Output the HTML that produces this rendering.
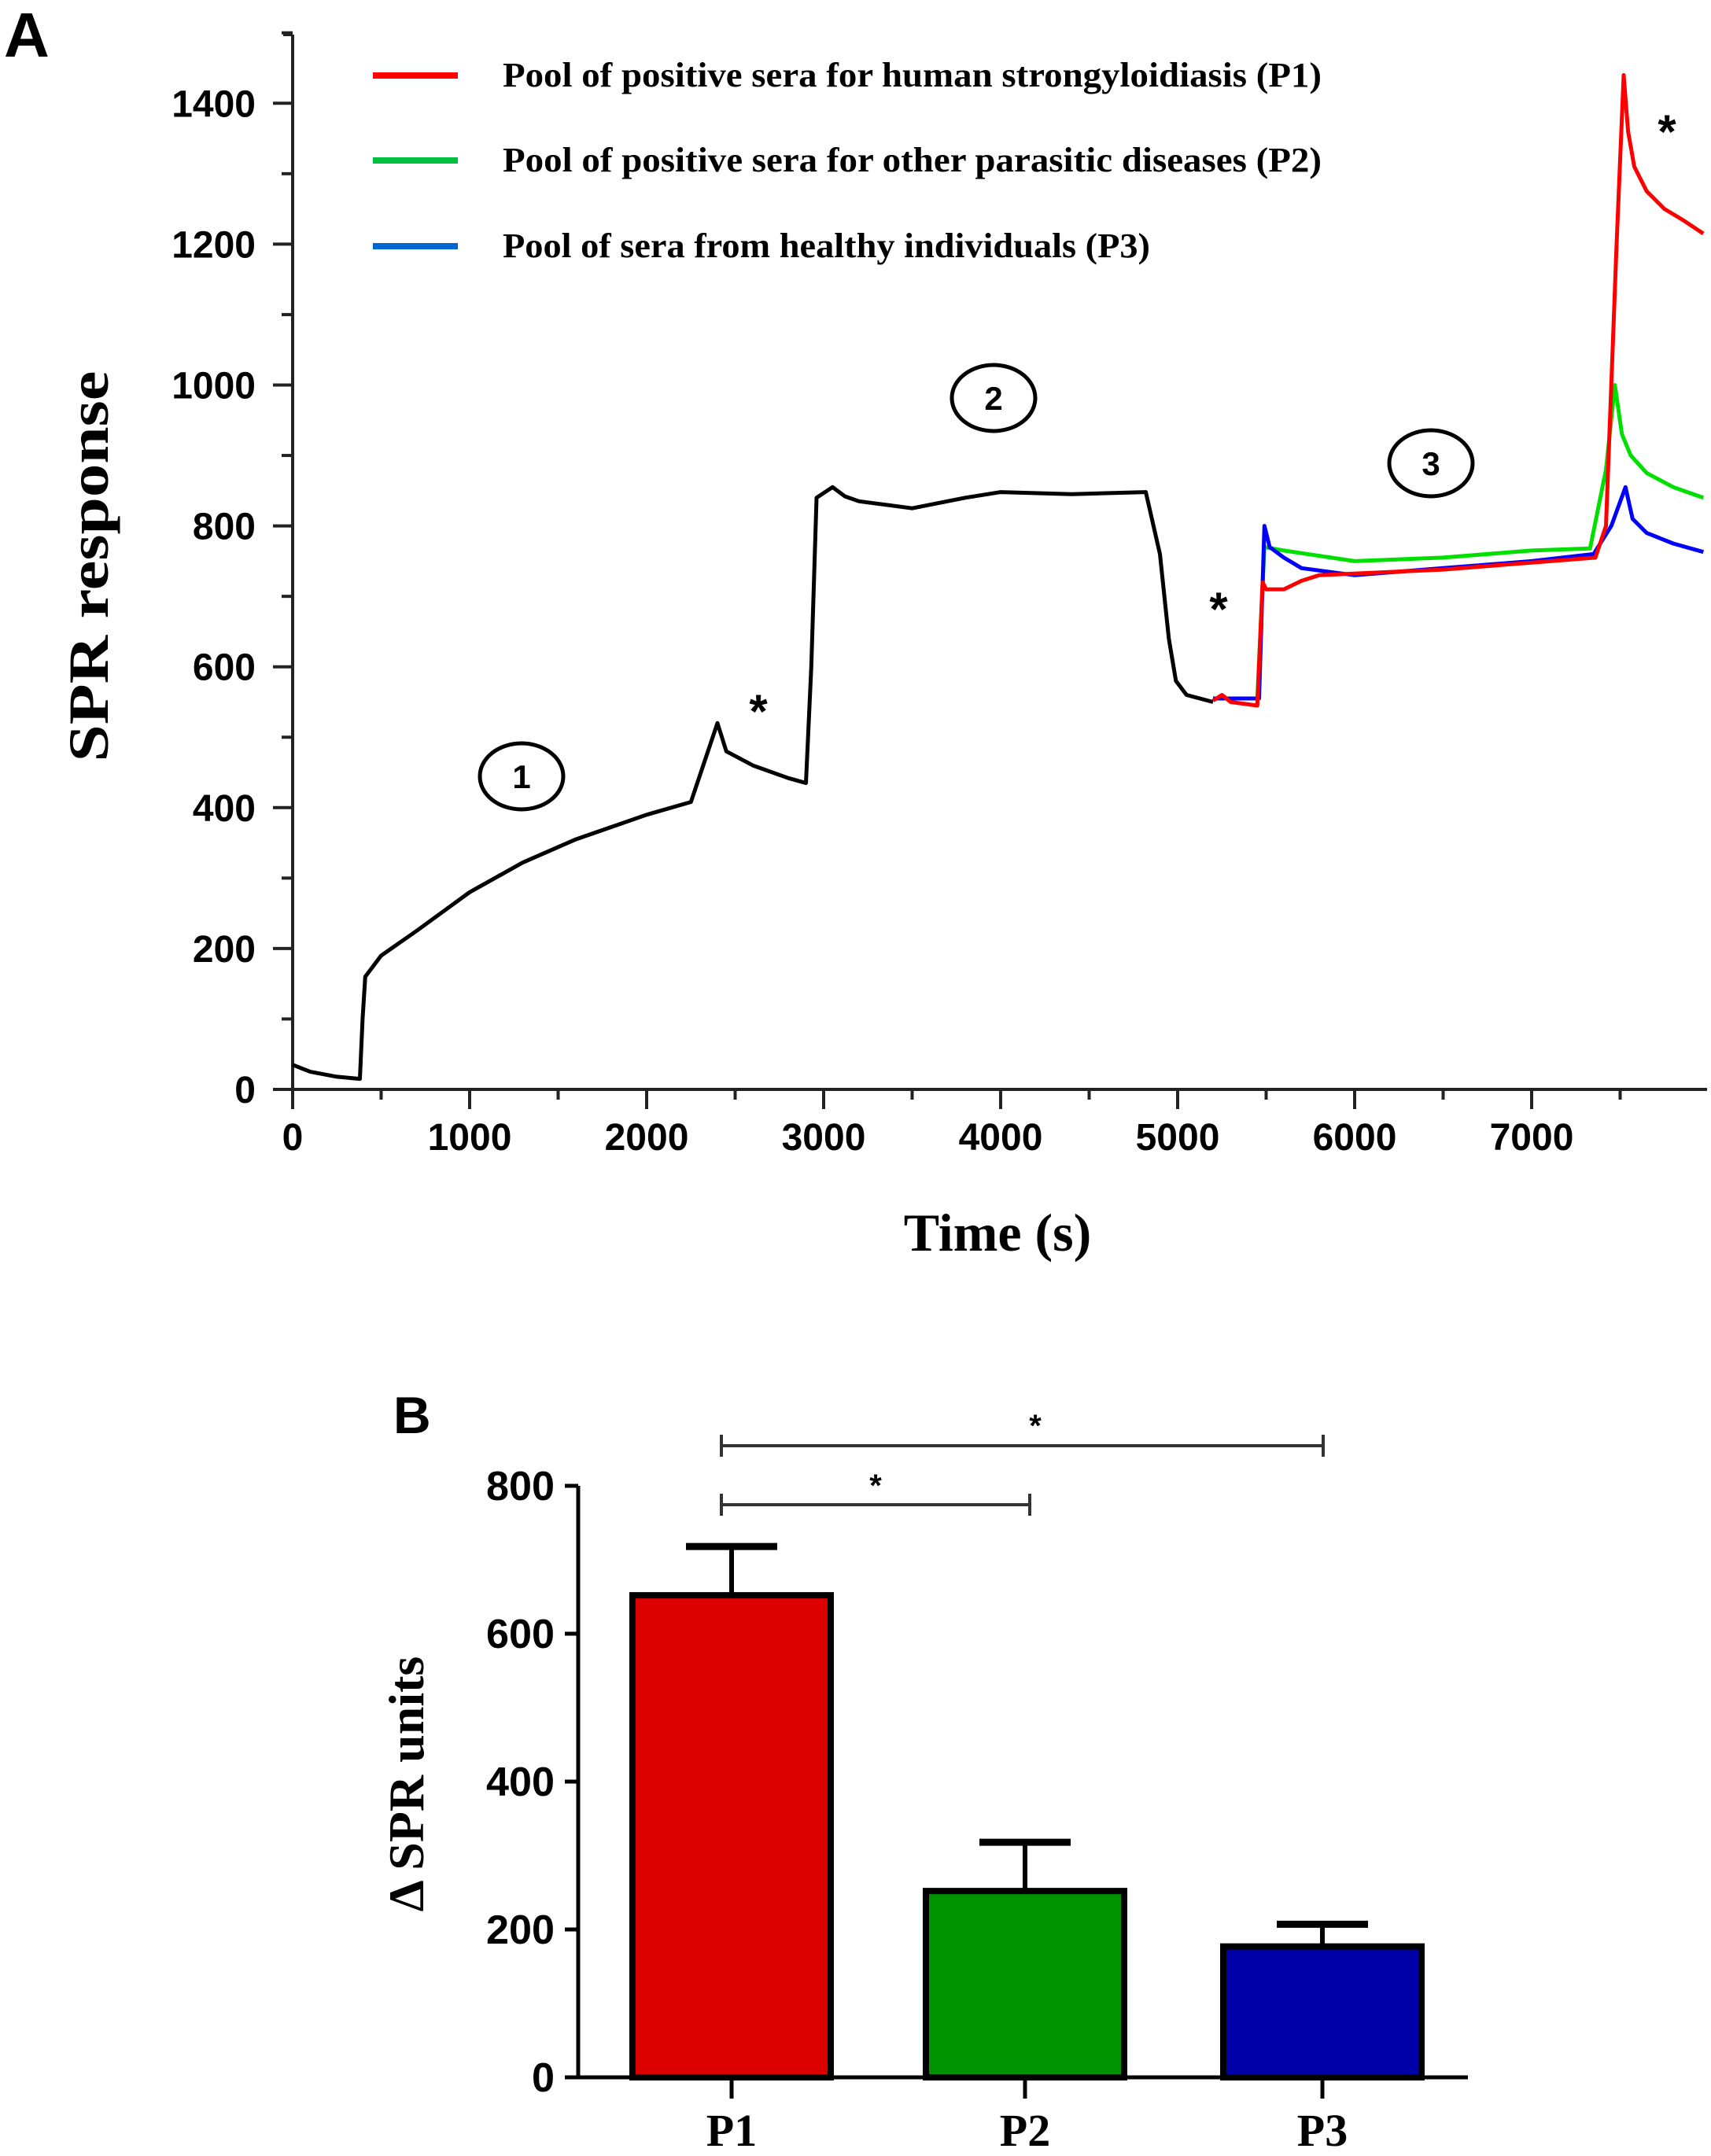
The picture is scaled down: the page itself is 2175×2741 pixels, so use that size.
<!DOCTYPE html>
<html><head><meta charset="utf-8"><style>
html,body{margin:0;padding:0;background:#fff}
svg{display:block}
.tk{font-family:"Liberation Sans",sans-serif;font-weight:bold;fill:#000}
.sf{font-family:"Liberation Serif",serif;font-weight:bold;fill:#000}
</style></head><body>
<svg id="fig" width="2175" height="2741" viewBox="0 0 2175 2741" xmlns="http://www.w3.org/2000/svg">
<text x="5" y="72" class="tk" font-size="80">A</text>
<text x="500" y="1822" class="tk" font-size="66">B</text>
<g id="gA"></g>
<g id="gB"></g>
</svg>
<script>
// ---- Panel A data ----
const blackT=[0,100,250,380,395,410,500,700,1000,1300,1600,2000,2250,2400,2450,2600,2800,2900,2930,2960,3050,3120,3200,3500,3800,4000,4400,4820,4900,4950,4990,5050,5200];
const blackV=[35,25,18,15,100,160,190,225,280,322,355,390,408,520,480,460,442,435,600,840,855,842,835,825,840,848,845,848,760,640,580,560,550];
const p1T=[5200,5250,5300,5450,5480,5500,5600,5700,5800,6500,7000,7360,7420,7480,7520,7545,7580,7650,7750,7850,7970];
const p1V=[552,560,550,545,720,710,710,722,730,738,748,755,800,1200,1440,1360,1310,1275,1250,1235,1215];
const p2T=[5200,5450,5490,5600,6000,6500,7000,7330,7420,7470,7510,7560,7650,7800,7970];
const p2V=[555,555,770,765,750,755,765,768,880,1000,930,900,875,855,840];
const p3T=[5200,5460,5490,5520,5600,5700,6000,6500,7000,7350,7450,7530,7570,7650,7800,7970];
const p3V=[555,555,800,770,755,740,730,740,750,760,800,855,810,790,775,763];
const aYTicks=[0,200,400,600,800,1000,1200,1400];
const aXTicks=[0,1000,2000,3000,4000,5000,6000,7000];
const legendLabels=["Pool of positive sera for human strongyloidiasis (P1)","Pool of positive sera for other parasitic diseases (P2)","Pool of sera from healthy individuals (P3)"];
// ---- Panel B data ----
const bCats=["P1","P2","P3"];
const bVals=[652,252,177];
const bErr=[66,66,30];
const bYTicks=[0,200,400,600,800];

const NS="http://www.w3.org/2000/svg";
function mk(p,tag,at){const e=document.createElementNS(NS,tag);for(const k in at)e.setAttribute(k,at[k]);p.appendChild(e);return e;}
const xA=t=>372+t*0.225, yA=v=>1385-v*0.8955;
const gA=document.getElementById('gA');
let e=mk(gA,'line',{x1:372,y1:44,x2:372,y2:1385,stroke:'#222','stroke-width':4});


e=mk(gA,'line',{x1:360,y1:44,x2:372,y2:44,stroke:'#222','stroke-width':4});
e=mk(gA,'line',{x1:350,y1:1385,x2:2170,y2:1385,stroke:'#222','stroke-width':4});


for(let v=0;v<=1500;v+=100){const major=v%200===0;mk(gA,'line',{x1:major?347:358,y1:yA(v),x2:372,y2:yA(v),stroke:'#222','stroke-width':4});}
aYTicks.forEach(v=>{const t=mk(gA,'text',{x:325,y:yA(v)+17,'text-anchor':'end',class:'tk','font-size':48});t.textContent=v;

});
for(let v=0;v<=7900;v+=500){const major=v%1000===0;mk(gA,'line',{x1:xA(v),y1:1385,x2:xA(v),y2:major?1410:1398,stroke:'#222','stroke-width':4});}
aXTicks.forEach(v=>{const t=mk(gA,'text',{x:xA(v),y:1462,'text-anchor':'middle',class:'tk','font-size':48});t.textContent=v;

});
let t=mk(gA,'text',{x:1268,y:1590,'text-anchor':'middle',class:'sf','font-size':68});t.textContent='Time (s)';


t=mk(gA,'text',{x:0,y:0,'text-anchor':'middle',class:'sf','font-size':72,transform:'translate(137,720) rotate(-90)',textLength:497,lengthAdjust:'spacingAndGlyphs'});t.textContent='SPR response';


function series(T,V,col,name){const d=T.map((x,i)=>(i?'L':'M')+xA(x).toFixed(1)+' '+yA(V[i]).toFixed(1)).join(' ');
const p=mk(gA,'path',{d:d,fill:'none',stroke:col,'stroke-width':5,'stroke-linejoin':'round'});

}
series(blackT,blackV,'#000','line-baseline');
series(p2T,p2V,'#00e000','line-p2');
series(p3T,p3V,'#0000ff','line-p3');
series(p1T,p1V,'#ff0000','line-p1');
const legCols=['#ff0000','#00c040','#0066d0'];const legY=[96,204,313];const legW=[1041,1041,823];
legendLabels.forEach((s,i)=>{const l=mk(gA,'line',{x1:474,y1:legY[i],x2:582,y2:legY[i],stroke:legCols[i],'stroke-width':8});


const tt=mk(gA,'text',{x:639,y:legY[i]+14,class:'sf','font-size':44,textLength:legW[i],lengthAdjust:'spacingAndGlyphs'});tt.textContent=s;

});
[[663,987,'1'],[1263,506,'2'],[1819,589,'3']].forEach(c=>{mk(gA,'ellipse',{cx:c[0],cy:c[1],rx:53,ry:42,fill:'none',stroke:'#000','stroke-width':5});
const n=mk(gA,'text',{x:c[0],y:c[1]+15,'text-anchor':'middle',class:'tk','font-size':42,'font-weight':'normal'});n.textContent=c[2];

});
[[964,925],[1549,795],[2119,188]].forEach(s=>{const a=mk(gA,'text',{x:s[0],y:s[1],'text-anchor':'middle',class:'tk','font-size':60});a.textContent='*';

});

// ---- Panel B ----
const gB=document.getElementById('gB');
const yB=v=>2641-v*0.94, bW=252, bX=[804,1177,1555];
e=mk(gB,'line',{x1:735,y1:1889,x2:735,y2:2641,stroke:'#000','stroke-width':5});


e=mk(gB,'line',{x1:733,y1:2641,x2:1866,y2:2641,stroke:'#000','stroke-width':5});


bYTicks.forEach(v=>{mk(gB,'line',{x1:718,y1:yB(v),x2:735,y2:yB(v),stroke:'#000','stroke-width':5});
const s=String(v);
const tx=mk(gB,'text',{x:705,y:yB(v)+18,'text-anchor':'end',class:'tk','font-size':52,textLength:29*s.length,lengthAdjust:'spacingAndGlyphs'});tx.textContent=s;

});
const bCols=['#dd0000','#009300','#0000a8'];
bCats.forEach((c,i)=>{const cx=bX[i]+bW/2;
const ey=yB(bVals[i]+bErr[i]);
mk(gB,'line',{x1:cx,y1:yB(bVals[i]),x2:cx,y2:ey,stroke:'#000','stroke-width':6});
mk(gB,'line',{x1:cx-58,y1:ey,x2:cx+58,y2:ey,stroke:'#000','stroke-width':9});
const r=mk(gB,'rect',{x:bX[i],y:yB(bVals[i]),width:bW,height:yB(0)-yB(bVals[i]),fill:bCols[i],stroke:'#000','stroke-width':8});


mk(gB,'line',{x1:cx,y1:2641,x2:cx,y2:2668,stroke:'#000','stroke-width':5});
const lb=mk(gB,'text',{x:cx,y:2728,'text-anchor':'middle',class:'sf','font-size':58});lb.textContent=c;

});
t=mk(gB,'text',{x:0,y:0,'text-anchor':'middle',class:'sf','font-size':64,transform:'translate(538,2268) rotate(-90)'});t.textContent='\u0394 SPR units';


[[917,1682,1838,1316,1826],[917,1309,1913,1113,1902]].forEach(b=>{const g=mk(gB,'g',{});


mk(g,'line',{x1:b[0],y1:b[2],x2:b[1],y2:b[2],stroke:'#333','stroke-width':4});
mk(g,'line',{x1:b[0],y1:b[2]-14,x2:b[0],y2:b[2]+14,stroke:'#333','stroke-width':4});
mk(g,'line',{x1:b[1],y1:b[2]-14,x2:b[1],y2:b[2]+14,stroke:'#333','stroke-width':4});
const s=mk(g,'text',{x:b[3],y:b[4],'text-anchor':'middle',class:'tk','font-size':40,'font-weight':'normal'});s.textContent='*';});
</script>
</body></html>
